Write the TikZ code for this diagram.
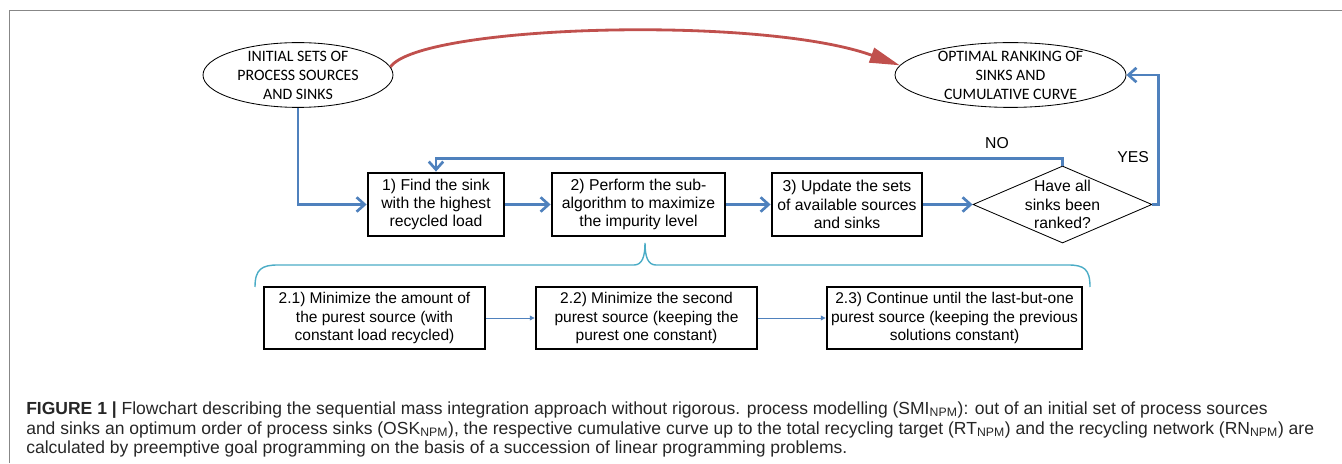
\documentclass[tikz,border=0pt]{standalone}
\usepackage{fontspec}
\setmainfont{Liberation Sans}
\newfontfamily\calibrifont{Carlito}
\usepackage{tikz}
\usetikzlibrary{arrows.meta,shapes.geometric}
\usepackage{xcolor}
\definecolor{flowblue}{RGB}{79,129,189}
\definecolor{arcred}{RGB}{192,80,77}
\definecolor{bracecyan}{RGB}{75,172,198}
\definecolor{framegray}{RGB}{135,135,135}

\begin{document}
\begin{tikzpicture}[
    terminal/.style={draw, ellipse, line width=0.6pt, minimum width=#1, minimum height=1.62cm, inner sep=0pt},
    termtext/.style={align=center, font=\calibrifont\fontsize{11.3}{13.5}\selectfont},
    stepbox/.style={draw, line width=2pt, minimum width=#1, minimum height=1.575cm, inner sep=0pt, align=center, font=\fontsize{11.2}{13}\selectfont},
    substep/.style={draw, line width=2pt, minimum width=#1, minimum height=1.55cm, inner sep=0pt, align=center, font=\fontsize{11.05}{13.5}\selectfont},
    decision/.style={draw, diamond, line width=0.6pt, minimum width=4.475cm, minimum height=1.925cm, inner sep=0pt},
    flow/.style={draw=flowblue, line width=1.9pt, -{Straight Barb[length=0.2cm, width=0.36cm]}},
    subflow/.style={draw=flowblue, line width=0.6pt, -{Triangle[length=0.12cm, width=0.12cm]}},
    redarc/.style={draw=arcred, line width=2pt, -{Triangle[length=0.75cm, width=0.38cm]}},
    captext/.style={anchor=base west, inner sep=0pt, text=black!85, font=\fontsize{12.45}{14}\selectfont}
]
    \useasboundingbox (0,0) rectangle (33.55,11.575);

    % Frame
    \draw[framegray, line width=1.2pt] (0.2375,0) -- (0.2375,11.3125) -- (33.55,11.3125);

    % Start and end ellipses
    \node[terminal=4.75cm] (initial) at (7.45,9.7) {};
    \node[termtext] (initialtxt) at (initial) {INITIAL SETS OF\\PROCESS SOURCES\\AND SINKS};
    \node[terminal=5.775cm] (optimal) at (25.2625,9.7) {};
    \node[termtext] (optimaltxt) at (optimal) {OPTIMAL RANKING OF\\SINKS AND\\CUMULATIVE CURVE};

    % Main steps
    \node[stepbox=3.4cm] (find) at (10.9,6.4625) {1) Find the sink\\with the highest\\recycled load};
    \node[stepbox=4.325cm] (perform) at (15.9625,6.4625) {2) Perform the sub-\\algorithm to maximize\\the impurity level};
    \node[stepbox=3.75cm] (update) at (21.175,6.4625) {3) Update the sets\\of available sources\\and sinks};
    \node[decision] (ranked) at (26.5625,6.4625) {};
    \node[align=center, inner sep=0pt, font=\fontsize{11.2}{13}\selectfont] (rankedtxt) at (ranked) {Have all\\sinks been\\ranked?};

    % Sub-algorithm
    \node[substep=5.525cm] (minone) at (9.3625,3.625) {2.1) Minimize the amount of\\the purest source (with\\constant load recycled)};
    \node[substep=5.525cm] (mintwo) at (16.1625,3.625) {2.2) Minimize the second\\purest source (keeping the\\purest one constant)};
    \node[substep=6.375cm] (cont) at (23.8625,3.625) {2.3) Continue until the last-but-one\\purest source (keeping the previous\\solutions constant)};

    % Connectors
    \draw[redarc] (initial.5) .. controls (10.5,10.95) and (19.0,11.2) .. (optimal.175);
    \draw[flow] (initial) |- (find);
    \draw[flow] (find) -- (perform);
    \draw[flow] (perform) -- (update);
    \draw[flow] (update) -- (ranked);
    \draw[flow] (ranked.north) -- ++(0,0.175) -| (find.north);
    \draw[flow] (ranked.east) -- ++(0.15,0) |- (optimal.east);
    \draw[subflow] (minone) -- (mintwo);
    \draw[subflow] (mintwo) -- (cont);
    \node[font=\fontsize{11.2}{13}\selectfont] (no) at (24.925,8.0) {NO};
    \node[font=\fontsize{11.2}{13}\selectfont] (yes) at (28.325,7.65) {YES};

    % Brace
    \draw[bracecyan, line width=1pt] (6.375,4.4) .. controls (6.375,4.85) and (6.55,4.95) .. (6.95,4.95)
        -- (15.85,4.95) .. controls (16.05,4.95) and (16.125,5.15) .. (16.125,5.5)
        .. controls (16.125,5.15) and (16.2,4.95) .. (16.4,4.95)
        -- (26.7,4.95) .. controls (27.1,4.95) and (27.25,4.85) .. (27.25,4.4);

    % Caption
    \node[captext] (cap1) at (0.65,1.225) {\textbf{FIGURE 1 |} Flowchart describing the sequential mass integration approach without rigorous. process modelling (SMI\textsubscript{NPM}): out of an initial set of process sources};
    \node[captext] (cap2) at (0.65,0.725) {and sinks an optimum order of process sinks (OSK\textsubscript{NPM}), the respective cumulative curve up to the total recycling target (RT\textsubscript{NPM}) and the recycling network (RN\textsubscript{NPM}) are};
    \node[captext] (cap3) at (0.65,0.25) {calculated by preemptive goal programming on the basis of a succession of linear programming problems.};
\end{tikzpicture}
\end{document}
